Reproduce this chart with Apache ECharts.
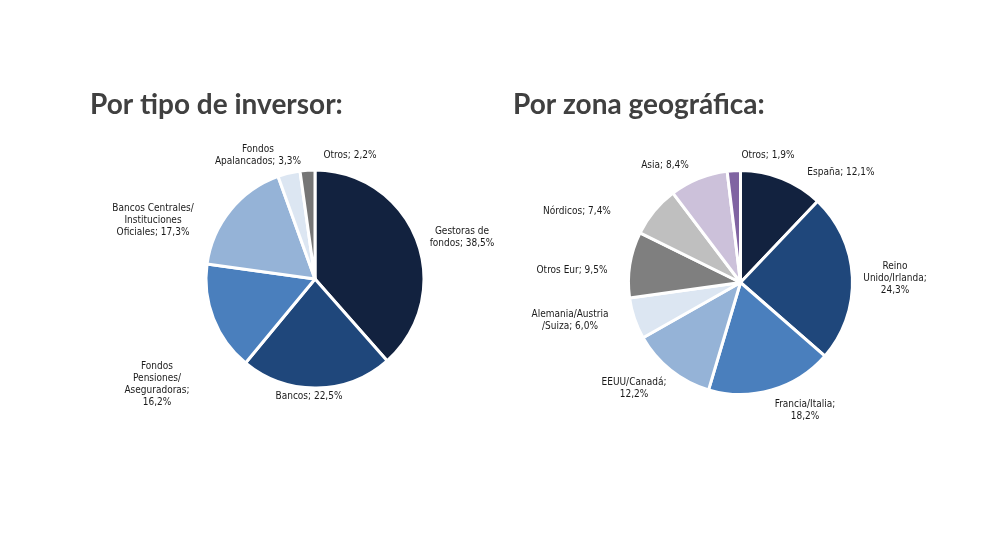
<!DOCTYPE html>
<html><head><meta charset="utf-8">
<script src="https://cdn.jsdelivr.net/npm/echarts@6/dist/echarts.min.js"></script>
<style>html,body{margin:0;padding:0;background:#fff}#c{width:990px;height:557px}</style>
</head><body><div id="c"></div>
<script>
// Data
const titles = ['Por tipo de inversor:', 'Por zona geográfica:'];
const investorCats = ['Gestoras de\nfondos', 'Bancos', 'Fondos\nPensiones/\nAseguradoras', 'Bancos Centrales/\nInstituciones\nOficiales', 'Fondos\nApalancados', 'Otros'];
const investorVals = [38.5, 22.5, 16.2, 17.3, 3.3, 2.2];
const investorSep = ['; ', '; ', ';\n', '; ', '; ', '; '];
const geoCats = ['España', 'Reino\nUnido/Irlanda', 'Francia/Italia', 'EEUU/Canadá', 'Alemania/Austria\n/Suiza', 'Otros Eur', 'Nórdicos', 'Asia', 'Otros'];
const geoVals = [12.1, 24.3, 18.2, 12.2, 6.0, 9.5, 7.4, 8.4, 1.9];
const geoSep = ['; ', ';\n', ';\n', ';\n', '; ', '; ', '; ', '; ', '; '];

// Styles
const investorColors = ['#12223f', '#1f477b', '#4a7fbd', '#95b3d7', '#dce6f2', '#767676'];
const geoColors = ['#12223f', '#1f477b', '#4a7fbd', '#95b3d7', '#dce6f2', '#7f7f7f', '#bfbfbf', '#ccc1da', '#8064a2'];
const investorLabelPos = [[462, 237], [309, 396], [157, 384], [153, 220], [258, 155], [350, 155]];
const geoLabelPos = [[841, 172], [895, 278], [805, 410], [634, 388], [570, 320], [572, 270], [577, 211], [665, 165], [768, 155]];

function fmt(v) { return v.toFixed(1).replace('.', ','); }
function build(cats, vals, seps, colors) {
  return cats.map((c, i) => ({ name: c, value: vals[i], label: { formatter: c + seps[i] + fmt(vals[i]) + '%' }, itemStyle: { color: colors[i] } }));
}
function layout(pos) {
  return function (p) { return { x: pos[p.dataIndex][0], y: pos[p.dataIndex][1], align: 'center', verticalAlign: 'middle' }; };
}
const labelStyle = { show: true, position: 'outside', fontFamily: 'DejaVu Sans Condensed, DejaVu Sans', fontSize: 10, color: '#1a1a1a', lineHeight: 12, align: 'center' };
const titleStyle = { fontFamily: 'Lato', fontWeight: 'bold', fontSize: 28, color: '#404040' };

const chart = echarts.init(document.getElementById('c'), null, { renderer: 'canvas' });
chart.setOption({
  animation: false,
  title: [
    { text: titles[0], left: 85, top: 86, textStyle: titleStyle },
    { text: titles[1], left: 508, top: 86, textStyle: titleStyle }
  ],
  series: [
    { type: 'pie', center: [315, 279], radius: [0, 109], startAngle: 90, clockwise: true, silent: true,
      itemStyle: { borderColor: '#fff', borderWidth: 3 }, label: labelStyle, labelLine: { show: false },
      labelLayout: layout(investorLabelPos), data: build(investorCats, investorVals, investorSep, investorColors) },
    { type: 'pie', center: [740.5, 282.5], radius: [0, 112], startAngle: 90, clockwise: true, silent: true,
      itemStyle: { borderColor: '#fff', borderWidth: 3 }, label: labelStyle, labelLine: { show: false },
      labelLayout: layout(geoLabelPos), data: build(geoCats, geoVals, geoSep, geoColors) }
  ]
});
</script></body></html>
